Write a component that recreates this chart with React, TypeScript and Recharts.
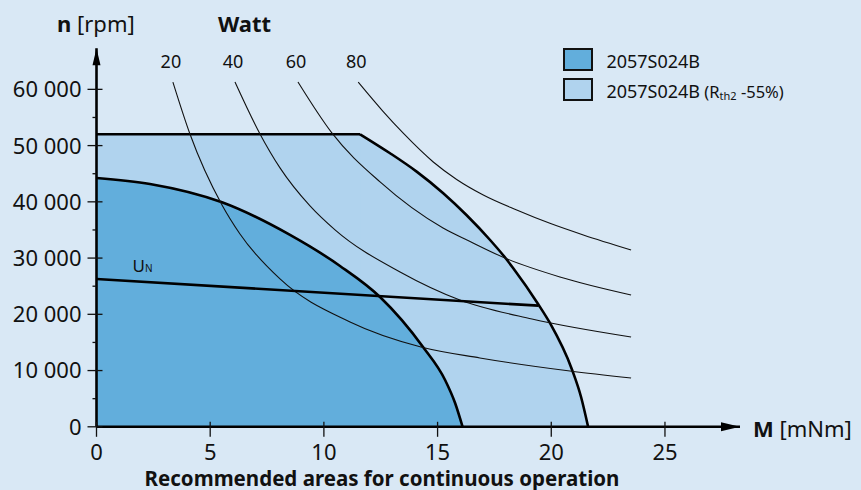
import React from "react";
import {
  ComposedChart,
  Area,
  Line,
  XAxis,
  YAxis,
  ReferenceDot,
  Legend,
} from "recharts";

const FONT = "'Noto Sans', 'Open Sans', sans-serif";
const BG = "#d9e8f5";
const DARK = "#62aedc";
const LIGHT = "#b0d3ee";

// torque M [mNm] / speed n [rpm]
const baseM = [0, 2.35, 5.52, 8.51, 10.71, 12.47, 14.36, 15.33, 15.77, 16.1];
const baseN = [44250, 43180, 39920, 34120, 28600, 23080, 14190, 8320, 4230, 0];

const coolM = [0, 11.59, 12.91, 14.08, 15.25, 16.28, 17.3, 17.96, 18.32, 19.42, 19.94, 20.91, 21.31, 21.62];
const coolN = [52020, 52020, 48640, 45370, 41530, 37610, 33260, 30140, 28240, 21840, 18460, 10190, 5300, 0];

const unM = [0, 19.43];
const unN = [26290, 21540];

// constant power lines (Watt)
const wattLabels = ["20", "40", "60", "80"];
const p20M = [3.36, 4.11, 5.52, 6.31, 8.07, 11.15, 14.27, 16.86, 20.82, 23.51];
const p20N = [61300, 52070, 39450, 34290, 26290, 18640, 14190, 12240, 9920, 8680];
const p40M = [6.09, 7.19, 8.07, 9.39, 10.49, 13.35, 15.98, 19.15, 23.51];
const p40N = [61300, 52070, 46030, 39270, 35010, 27530, 22550, 19170, 15970];
const p60M = [8.86, 10.35, 12.47, 15.24, 16.43, 17.96, 20.38, 23.51];
const p60N = [61300, 52250, 43540, 35350, 32950, 30020, 26640, 23440];
const p80M = [11.51, 12.61, 13.49, 14.81, 15.84, 17.01, 18.48, 19.94, 21.41, 23.51];
const p80N = [61270, 56040, 52200, 47090, 43980, 41220, 38550, 36180, 34110, 31440];

const xTicks = [0, 5, 10, 15, 20, 25];
const yTicks = [0, 5000, 10000, 15000, 20000, 25000, 30000, 35000, 40000, 45000, 50000, 55000, 60000];
const X_MAX = 28.3;
const Y_MAX = 67300;

const legendNames = ["2057S024B", "2057S024B"];

const pts = (ms: number[], ns: number[]) => ms.map((m, i) => ({ m, n: ns[i] }));

const base = pts(baseM, baseN);
const lightFlat = pts(coolM.slice(0, 3), coolN.slice(0, 3));
const lightTop = pts(coolM.slice(0, 2), coolN.slice(0, 2));
const lightCurve = pts(coolM.slice(1), coolN.slice(1));
const un = pts(unM, unN);
const powerCurves = [
  pts(p20M, p20N),
  pts(p40M, p40N),
  pts(p60M, p60N),
  pts(p80M, p80N),
];

const fmtRpm = (v: number) => (v === 0 ? "0" : `${v / 1000} 000`);

const YTick = (props: any) => {
  const { x, y, payload } = props;
  const major = payload.value % 10000 === 0;
  return (
    <g>
      <line
        x1={x - (major ? 9 : 4)}
        x2={x + (major ? 6 : 0)}
        y1={y}
        y2={y}
        stroke="#111"
        strokeWidth={1.3}
      />
      {major && (
        <text x={x - 15} y={y} dy="0.36em" textAnchor="end" fontSize={22} fontFamily={FONT} fill="#111">
          {fmtRpm(payload.value)}
        </text>
      )}
    </g>
  );
};

const XTick = (props: any) => {
  const { x, y, payload } = props;
  return (
    <g>
      <line x1={x} x2={x} y1={y - 5} y2={y + 10} stroke="#111" strokeWidth={1.3} />
      <text x={x} y={y + 33} textAnchor="middle" fontSize={22} fontFamily={FONT} fill="#111">
        {payload.value}
      </text>
    </g>
  );
};

const LegendBox = () => (
  <div style={{ fontFamily: FONT, color: "#111" }}>
    {legendNames.map((name, i) => (
      <div key={i} style={{ display: "flex", alignItems: "center", height: 30 }}>
        <span
          style={{
            width: 26.7,
            height: 19.3,
            border: "2px solid #111",
            background: i === 0 ? DARK : LIGHT,
            marginRight: 13,
            flex: "none",
          }}
        />
        <span style={{ fontSize: 18, paddingTop: 4, whiteSpace: "nowrap" }}>
          {name}
          {i === 1 && (
            <span style={{ fontSize: 16.5 }}>
              {" (R"}
              <span style={{ fontSize: 11, position: "relative", top: 2 }}>th2</span>
              {" -55%)"}
            </span>
          )}
        </span>
      </div>
    ))}
  </div>
);

export default function App() {
  return (
    <div
      style={{
        position: "absolute",
        left: 0,
        top: 0,
        width: 861,
        height: 490,
        background: BG,
        overflow: "hidden",
      }}
    >
      <ComposedChart
        width={861}
        height={490}
        margin={{ top: 48.3, right: 121, bottom: 62.2, left: 95.5 }}
      >
        <XAxis
          type="number"
          dataKey="m"
          domain={[0, X_MAX]}
          ticks={xTicks}
          interval={0}
          allowDataOverflow
          height={1}
          tickSize={0}
          tickMargin={0}
          tickLine={false}
          axisLine={{ stroke: "#000", strokeWidth: 2.6 }}
          tick={<XTick />}
        />
        <YAxis
          type="number"
          dataKey="n"
          domain={[0, Y_MAX]}
          ticks={yTicks}
          interval={0}
          allowDataOverflow
          width={1}
          tickSize={0}
          tickMargin={0}
          tickLine={false}
          axisLine={{ stroke: "#000", strokeWidth: 2.6 }}
          tick={<YTick />}
        />
        <Area
          data={lightFlat}
          dataKey="n"
          type="linear"
          fill={LIGHT}
          fillOpacity={1}
          stroke="none"
          isAnimationActive={false}
        />
        <Area
          data={lightCurve}
          dataKey="n"
          type="monotone"
          fill={LIGHT}
          fillOpacity={1}
          stroke="#000"
          strokeWidth={2.6}
          isAnimationActive={false}
        />
        <Line
          data={lightTop}
          dataKey="n"
          type="linear"
          stroke="#000"
          strokeWidth={2.6}
          dot={false}
          isAnimationActive={false}
        />
        <Area
          data={base}
          dataKey="n"
          type="monotone"
          fill={DARK}
          fillOpacity={1}
          stroke="#000"
          strokeWidth={2.6}
          isAnimationActive={false}
        />
        {powerCurves.map((d, k) => (
          <Line
            key={wattLabels[k]}
            data={d}
            dataKey="n"
            type="monotone"
            stroke="#111"
            strokeWidth={1.1}
            isAnimationActive={false}
            dot={(p: any) =>
              p.index === 0 ? (
                <text
                  key={`w${k}`}
                  x={p.cx - 2}
                  y={p.cy - 14}
                  textAnchor="middle"
                  fontSize={18}
                  fontFamily={FONT}
                  fill="#111"
                >
                  {wattLabels[k]}
                </text>
              ) : (
                <g key={`d${k}-${p.index}`} />
              )
            }
          />
        ))}
        <Line
          data={un}
          dataKey="n"
          type="linear"
          stroke="#000"
          strokeWidth={2.6}
          dot={false}
          isAnimationActive={false}
        />
        <ReferenceDot
          x={X_MAX}
          y={0}
          ifOverflow="visible"
          shape={(p: any) => (
            <path d={`M${p.cx},${p.cy} l-19,-4.5 l0,9 z`} fill="#000" />
          )}
        />
        <ReferenceDot
          x={0}
          y={Y_MAX}
          ifOverflow="visible"
          shape={(p: any) => (
            <path d={`M${p.cx},${p.cy} l-4,17 l8,0 z`} fill="#000" />
          )}
        />
        <Legend
          layout="vertical"
          align="center"
          verticalAlign="middle"
          content={<LegendBox />}
          wrapperStyle={{ top: 44.3, left: 562.7, width: 280 }}
        />
      </ComposedChart>
      <svg
        width={861}
        height={490}
        style={{ position: "absolute", left: 0, top: 0, pointerEvents: "none" }}
        fontFamily={FONT}
        fill="#111"
      >
        <text x={57} y={31.7} fontSize={22}>
          <tspan fontWeight="bold">n</tspan> [rpm]
        </text>
        <text x={218} y={31.7} fontSize={22} fontWeight="bold">
          Watt
        </text>
        <text x={753} y={436.7} fontSize={22}>
          <tspan fontWeight="bold">M</tspan> [mNm]
        </text>
        <text x={132.5} y={271.7} fontSize={17}>
          U<tspan fontSize={10}>N</tspan>
        </text>
        <text x={382} y={485.5} fontSize={20.5} fontWeight="bold" textAnchor="middle">
          Recommended areas for continuous operation
        </text>
      </svg>
    </div>
  );
}
